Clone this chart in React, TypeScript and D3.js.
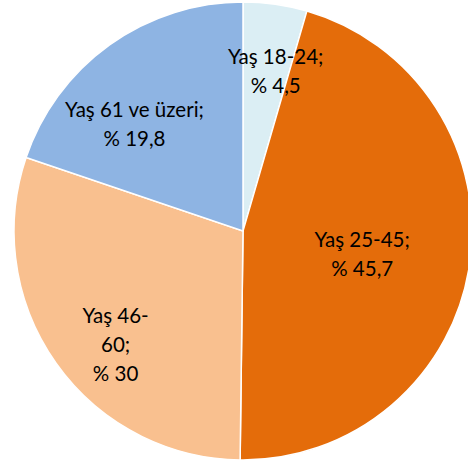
import React, { useEffect, useRef } from 'react'
import * as d3 from 'd3'

// age groups and their share (%)
const groups = ['Yaş 18-24;', 'Yaş 25-45;', 'Yaş 46-60;', 'Yaş 61 ve üzeri;']
const shares = [4.5, 45.7, 30, 19.8]
const shareLabels = ['% 4,5', '% 45,7', '% 30', '% 19,8']
// how the label text wraps inside each slice
const labelLines = [
  ['Yaş 18-24;', '% 4,5'],
  ['Yaş 25-45;', '% 45,7'],
  ['Yaş 46-', '60;', '% 30'],
  ['Yaş 61 ve üzeri;', '% 19,8']
]
const colors = ['#DBEEF4', '#E46C0A', '#F9C08F', '#8EB4E3']

export default function App() {
  const svgRef = useRef<SVGSVGElement>(null)

  useEffect(() => {
    const svg = d3.select(svgRef.current)
    svg.selectAll('*').remove()

    const width = 468
    const height = 465
    const cx = 243
    const cy = 231
    const radius = 229

    const data = groups.map((g, i) => ({ name: g, value: shares[i], label: shareLabels[i], lines: labelLines[i], color: colors[i] }))

    const pie = d3.pie<any>().sort(null).value(d => d.value).startAngle(0).endAngle(2 * Math.PI)
    const arcs = pie(data)

    const arc = d3.arc<any>().innerRadius(0).outerRadius(radius)

    const g = svg.attr('width', width).attr('height', height)
      .append('g')
      .attr('transform', `translate(${cx},${cy})`)

    g.selectAll('path')
      .data(arcs)
      .enter()
      .append('path')
      .attr('d', arc)
      .style('fill', (d: any) => d.data.color)
      .style('stroke', '#fff')
      .style('stroke-width', 1.5)

    // label placement, similar to the spreadsheet's best-fit
    const labelRadius = [0.71, 0.53, 0.745, 0.665]
    const angleNudge = [3.5, 2.4, -6.4, -9.8]
    const lineHeight = 29

    arcs.forEach((d: any, i: number) => {
      const a = (d.startAngle + d.endAngle) / 2 + (angleNudge[i] * Math.PI) / 180
      const r = radius * labelRadius[i]
      const x = Math.sin(a) * r
      const y = -Math.cos(a) * r
      const lines: string[] = d.data.lines
      const t = g.append('text')
        .attr('text-anchor', 'middle')
        .style('font-family', 'Lato, "Open Sans", sans-serif')
        .style('font-size', '20.5px')
        .style('fill', '#000')
      lines.forEach((line, j) => {
        t.append('tspan')
          .attr('x', x)
          .attr('y', y + (j - (lines.length - 1) / 2) * lineHeight)
          .attr('dy', '0.35em')
          .text(line)
      })
    })
  }, [])

  return (
    <svg ref={svgRef} style={{ position: 'absolute', left: 0, top: 0, background: '#fff' }} />
  )
}
